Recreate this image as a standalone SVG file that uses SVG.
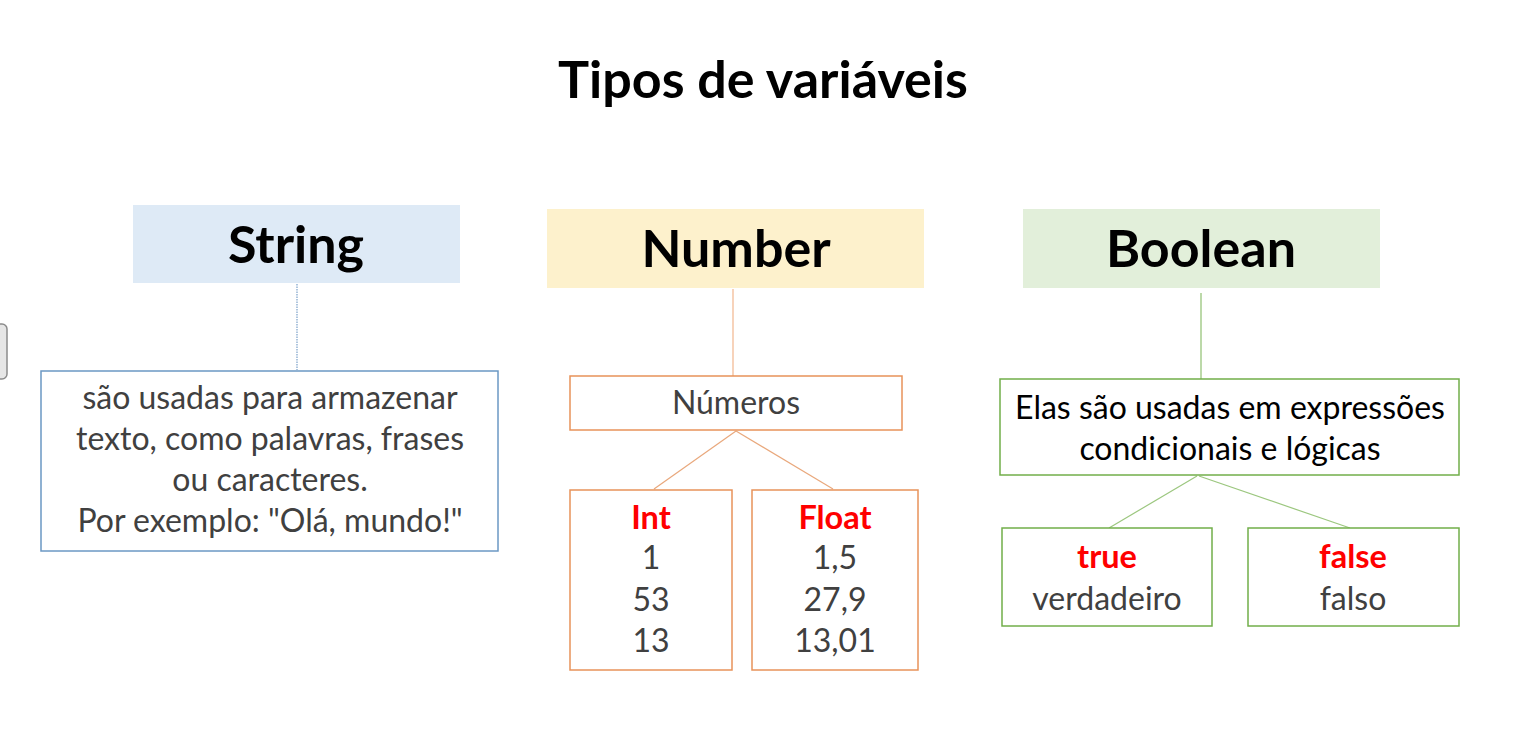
<svg xmlns="http://www.w3.org/2000/svg" width="1521" height="743" viewBox="0 0 1521 743">
<style>
text{font-family:"Lato","Open Sans","Liberation Sans",sans-serif;text-anchor:middle}
.h{font-weight:bold;font-size:52px;fill:#000}
.t{font-size:32px;fill:#404040}
.k{font-size:32px;fill:#000}
.r{font-size:32.5px;font-weight:bold;fill:#ff0000}
.bs{fill:#fff;stroke:#6b98c4;stroke-width:1.5}
.ns{fill:#fff;stroke:#e8925a;stroke-width:1.5}
.gs{fill:#fff;stroke:#72ae4a;stroke-width:1.5}
</style>
<rect width="1521" height="743" fill="#fff"/>
<rect x="-10" y="324" width="17" height="55" rx="5" fill="#e6e6e6" stroke="#8c8c8c" stroke-width="1.5"/>
<text id="title" x="763" y="98" style="font-weight:bold;font-size:52px;fill:#000">Tipos de variáveis</text>
<g id="connectors" fill="none" stroke-width="1.2">
<line x1="297" y1="284" x2="297" y2="370" stroke="#7aa0c8" stroke-dasharray="1.5 1"/>
<line x1="733" y1="289" x2="733" y2="376" stroke="#f2b68d"/>
<line x1="736" y1="431" x2="654" y2="489" stroke="#e9a87c"/>
<line x1="736" y1="431" x2="833" y2="489" stroke="#e9a87c"/>
<line x1="1201" y1="293" x2="1201" y2="379" stroke="#8fc070"/>
<line x1="1197" y1="476" x2="1109" y2="528" stroke="#9cc77f"/>
<line x1="1199" y1="476" x2="1350" y2="528" stroke="#9cc77f"/>
</g>
<g id="string">
<rect x="133" y="205" width="327" height="78" fill="#deeaf6"/>
<text class="h" x="296" y="263">String</text>
</g>
<g id="string-desc">
<rect class="bs" x="41" y="371" width="457" height="180"/>
<text class="t" x="270" y="409">são usadas para armazenar</text>
<text class="t" x="270" y="450">texto, como palavras, frases</text>
<text class="t" x="270" y="491">ou caracteres.</text>
<text class="t" x="270" y="532">Por exemplo: "Olá, mundo!"</text>
</g>
<g id="number">
<rect x="547" y="209" width="377" height="79" fill="#fdf1cc"/>
<text class="h" x="736" y="267">Number</text>
</g>
<g id="numeros">
<rect class="ns" x="570" y="376" width="332" height="54"/>
<text class="t" x="736" y="414">Números</text>
</g>
<g id="int">
<rect class="ns" x="570" y="490" width="162" height="180"/>
<text class="r" x="651" y="529">Int</text>
<text class="t" x="651" y="569">1</text>
<text class="t" x="651" y="611">53</text>
<text class="t" x="651" y="652">13</text>
</g>
<g id="float">
<rect class="ns" x="752" y="490" width="166" height="180"/>
<text class="r" x="835" y="529">Float</text>
<text class="t" x="835" y="569">1,5</text>
<text class="t" x="835" y="611">27,9</text>
<text class="t" x="835" y="652">13,01</text>
</g>
<g id="boolean">
<rect x="1023" y="209" width="357" height="79" fill="#e2efda"/>
<text class="h" x="1201" y="267">Boolean</text>
</g>
<g id="boolean-desc">
<rect class="gs" x="1000" y="379" width="459" height="96"/>
<text class="k" x="1230" y="419">Elas são usadas em expressões</text>
<text class="k" x="1230" y="460">condicionais e lógicas</text>
</g>
<g id="true">
<rect class="gs" x="1002" y="528" width="210" height="98"/>
<text class="r" x="1107" y="568">true</text>
<text class="t" x="1107" y="610">verdadeiro</text>
</g>
<g id="false">
<rect class="gs" x="1248" y="528" width="211" height="98"/>
<text class="r" x="1353" y="568">false</text>
<text class="t" x="1353" y="610">falso</text>
</g>
</svg>
